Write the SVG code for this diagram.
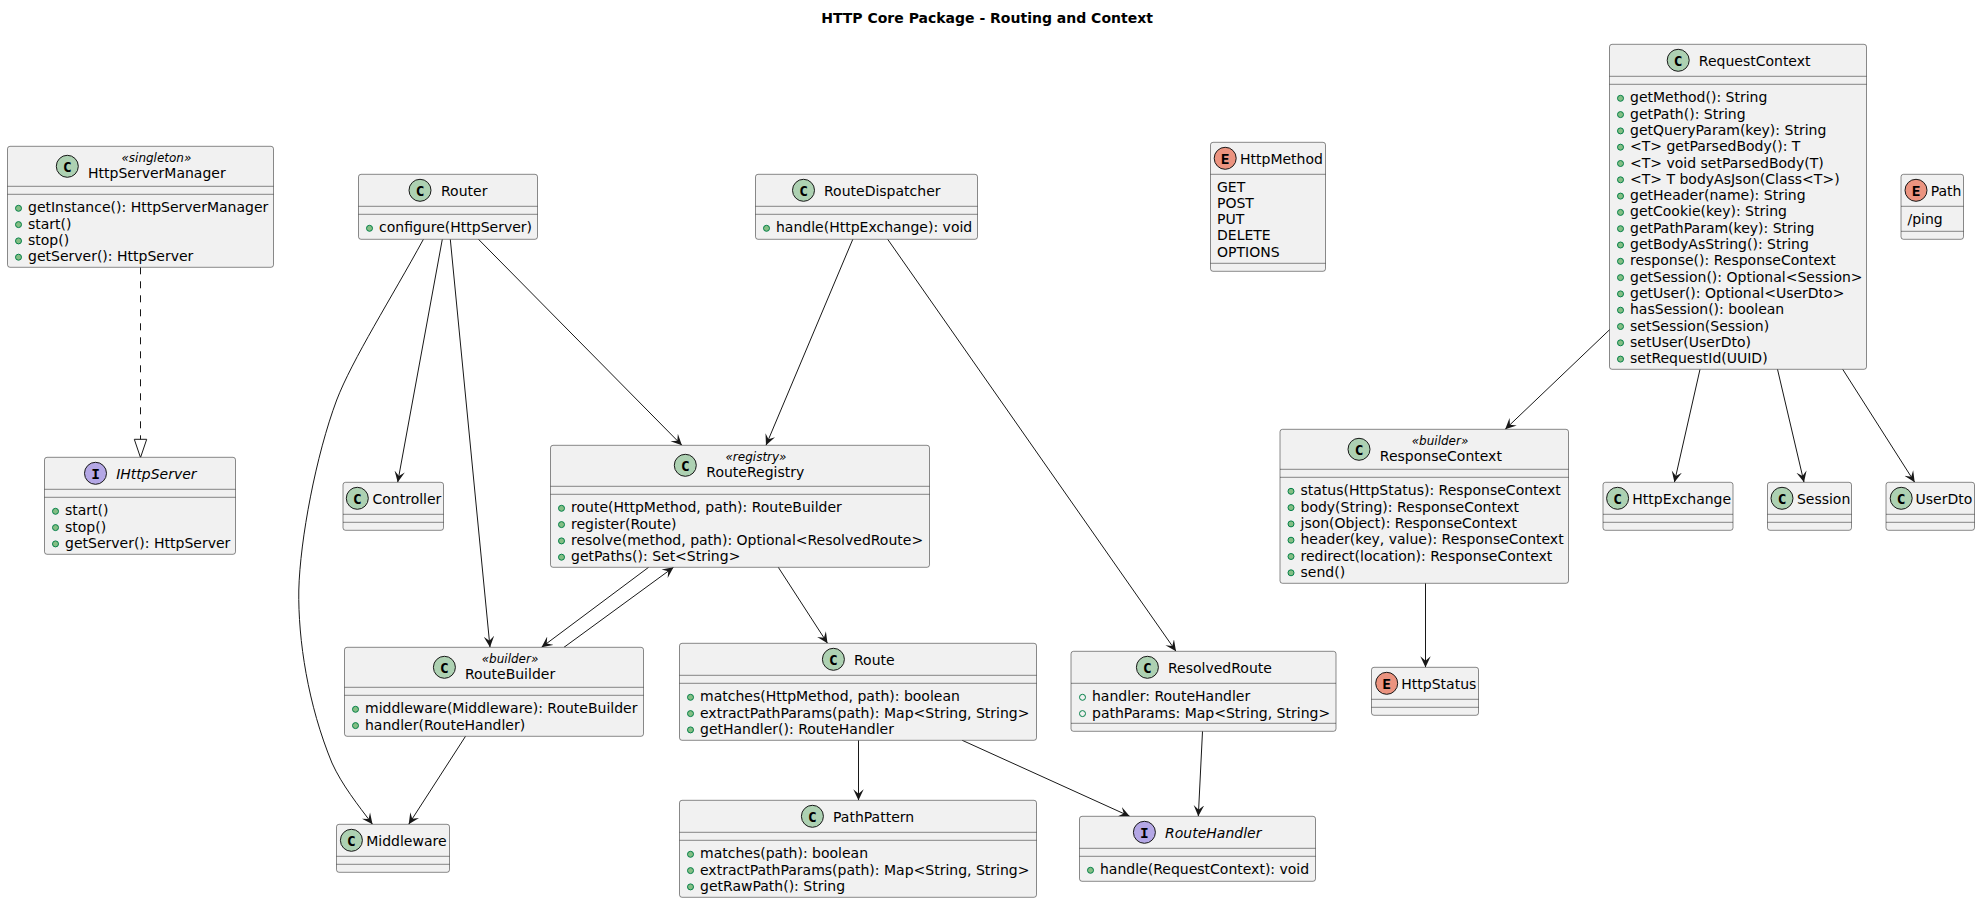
<svg xmlns="http://www.w3.org/2000/svg" width="1986" height="903" viewBox="0 0 1986 903">
<style>
text{font-family:"DejaVu Sans",sans-serif;font-size:14px;fill:#000}
.title{font-weight:bold}
.st{font-size:12px;font-style:italic;text-anchor:middle}
.it{font-style:italic}
.box{fill:#F1F1F1;stroke:#181818;stroke-width:.5}
.d{stroke:#181818;stroke-width:.5}
.c{fill:#ADD1B2;stroke:#181818;stroke-width:1}
.i{fill:#B4A7E5;stroke:#181818;stroke-width:1}
.e{fill:#EB937F;stroke:#181818;stroke-width:1}
.g{font-family:"DejaVu Sans Mono",monospace;font-weight:bold;font-size:14.5px;text-anchor:middle}
.v{fill:#84BE84;stroke:#038048;stroke-width:1}
.f{fill:none;stroke:#038048;stroke-width:1}
.l{fill:none;stroke:#181818;stroke-width:1;marker-end:url(#arrow)}
</style>
<defs>
<marker id="arrow" markerUnits="userSpaceOnUse" viewBox="0 -5.5 11 11" markerWidth="11" markerHeight="11" refX="11" refY="0" orient="auto"><polygon points="0,-5.2 11,0 0,5.2 4.5,0" fill="#181818"/></marker>
<marker id="hollow" markerUnits="userSpaceOnUse" viewBox="-1 -7.5 21 15" markerWidth="21" markerHeight="15" refX="0" refY="0" orient="auto"><polygon points="0,-6.2 18.3,0 0,6.2" fill="none" stroke="#181818" stroke-width="1"/></marker>
</defs>
<text class="title" x="821.2" y="23">HTTP Core Package - Routing and Context</text>
<g id="connectors">
<path fill="none" stroke="#181818" stroke-width="1" stroke-dasharray="7,7" marker-end="url(#hollow)" d="M140.5,267.3 L140.5,439.3"/>
<path class="l" d="M442.3,239.3 L397.7,482.3"/>
<path class="l" d="M450.3,239.3 L490,647.3"/>
<path class="l" d="M423.4,239.3 C392,297 352,360 336.7,400 C316,455 300,540 298.8,590 C298,640 308,705 332,763 C342,785 358,805 372.5,824.3"/>
<path class="l" d="M478.5,239.3 L681.9,445.3"/>
<path class="l" d="M852.8,239.3 L766,445.3"/>
<path class="l" d="M887.7,239.3 L1176,651.3"/>
<path class="l" d="M648.6,567.3 L541.5,647.3"/>
<path class="l" d="M564,647.3 L673.5,567.3"/>
<path class="l" d="M778.3,567.3 L827.5,643.3"/>
<path class="l" d="M465.5,736.3 L408.7,824.3"/>
<path class="l" d="M858.5,740.3 L858.5,800.3"/>
<path class="l" d="M962.2,740.3 L1129.7,816.3"/>
<path class="l" d="M1202.5,731.3 L1198.3,816.3"/>
<path class="l" d="M1610,329.3 L1505.2,429.3"/>
<path class="l" d="M1700,369.3 L1674.4,482.3"/>
<path class="l" d="M1777.5,369.3 L1804,482.3"/>
<path class="l" d="M1842.7,369.3 L1914.7,482.3"/>
<path class="l" d="M1425.5,583.3 L1425.5,667.3"/>
</g>
<g id="HttpServerManager">
<rect class="box" x="7.5" y="146.3" width="266" height="121" rx="2.5"/>
<line class="d" x1="7.5" y1="186.3" x2="273.5" y2="186.3"/><line class="d" x1="7.5" y1="194.3" x2="273.5" y2="194.3"/>
<circle class="c" cx="67.3" cy="166.3" r="11"/><text class="g" x="67.3" y="172">C</text>
<text class="st" x="156.4" y="161.8">«singleton»</text>
<text x="88" y="178.3">HttpServerManager</text>
<circle class="v" cx="18.5" cy="208.3" r="3"/><text x="28" y="212.3">getInstance(): HttpServerManager</text>
<circle class="v" cx="18.5" cy="224.6" r="3"/><text x="28" y="228.6">start()</text>
<circle class="v" cx="18.5" cy="240.9" r="3"/><text x="28" y="244.9">stop()</text>
<circle class="v" cx="18.5" cy="257.2" r="3"/><text x="28" y="261.2">getServer(): HttpServer</text>
</g>
<g id="IHttpServer">
<rect class="box" x="44.5" y="457.3" width="191" height="97" rx="2.5"/>
<line class="d" x1="44.5" y1="489.3" x2="235.5" y2="489.3"/><line class="d" x1="44.5" y1="497.3" x2="235.5" y2="497.3"/>
<circle class="i" cx="95.5" cy="473.3" r="11"/><text class="g" x="95.5" y="479">I</text>
<text class="it" x="116.2" y="479">IHttpServer</text>
<circle class="v" cx="55.5" cy="511.3" r="3"/><text x="65" y="515.3">start()</text>
<circle class="v" cx="55.5" cy="527.6" r="3"/><text x="65" y="531.6">stop()</text>
<circle class="v" cx="55.5" cy="543.9" r="3"/><text x="65" y="547.9">getServer(): HttpServer</text>
</g>
<g id="Router">
<rect class="box" x="358.5" y="174.3" width="179" height="65" rx="2.5"/>
<line class="d" x1="358.5" y1="206.3" x2="537.5" y2="206.3"/><line class="d" x1="358.5" y1="214.3" x2="537.5" y2="214.3"/>
<circle class="c" cx="420" cy="190.3" r="11"/><text class="g" x="420" y="196">C</text>
<text x="441" y="196">Router</text>
<circle class="v" cx="369.5" cy="228.3" r="3"/><text x="379" y="232.3">configure(HttpServer)</text>
</g>
<g id="Controller">
<rect class="box" x="343" y="482.3" width="100.5" height="48" rx="2.5"/>
<line class="d" x1="343" y1="514.3" x2="443.5" y2="514.3"/><line class="d" x1="343" y1="522.3" x2="443.5" y2="522.3"/>
<circle class="c" cx="357.3" cy="498.3" r="11"/><text class="g" x="357.3" y="504">C</text>
<text x="372.5" y="504">Controller</text>
</g>
<g id="RouteRegistry">
<rect class="box" x="550.5" y="445.3" width="379" height="122" rx="2.5"/>
<line class="d" x1="550.5" y1="486.3" x2="929.5" y2="486.3"/><line class="d" x1="550.5" y1="494.3" x2="929.5" y2="494.3"/>
<circle class="c" cx="685.3" cy="465.3" r="11"/><text class="g" x="685.3" y="471">C</text>
<text class="st" x="756" y="461">«registry»</text>
<text x="706.3" y="477.3">RouteRegistry</text>
<circle class="v" cx="561.5" cy="508.3" r="3"/><text x="571" y="512.3">route(HttpMethod, path): RouteBuilder</text>
<circle class="v" cx="561.5" cy="524.6" r="3"/><text x="571" y="528.6">register(Route)</text>
<circle class="v" cx="561.5" cy="540.9" r="3"/><text x="571" y="544.9">resolve(method, path): Optional&lt;ResolvedRoute&gt;</text>
<circle class="v" cx="561.5" cy="557.2" r="3"/><text x="571" y="561.2">getPaths(): Set&lt;String&gt;</text>
</g>
<g id="RouteBuilder">
<rect class="box" x="344.5" y="647.3" width="299" height="89" rx="2.5"/>
<line class="d" x1="344.5" y1="687.3" x2="643.5" y2="687.3"/><line class="d" x1="344.5" y1="695.3" x2="643.5" y2="695.3"/>
<circle class="c" cx="444.4" cy="667.3" r="11"/><text class="g" x="444.4" y="673">C</text>
<text class="st" x="510" y="663">«builder»</text>
<text x="465" y="679.3">RouteBuilder</text>
<circle class="v" cx="355.5" cy="709.3" r="3"/><text x="365" y="713.3">middleware(Middleware): RouteBuilder</text>
<circle class="v" cx="355.5" cy="725.6" r="3"/><text x="365" y="729.6">handler(RouteHandler)</text>
</g>
<g id="Middleware">
<rect class="box" x="336.5" y="824.3" width="113" height="48" rx="2.5"/>
<line class="d" x1="336.5" y1="856.3" x2="449.5" y2="856.3"/><line class="d" x1="336.5" y1="864.3" x2="449.5" y2="864.3"/>
<circle class="c" cx="351.4" cy="840.3" r="11"/><text class="g" x="351.4" y="846">C</text>
<text x="366.2" y="846">Middleware</text>
</g>
<g id="RouteDispatcher">
<rect class="box" x="755.5" y="174.3" width="222" height="65" rx="2.5"/>
<line class="d" x1="755.5" y1="206.3" x2="977.5" y2="206.3"/><line class="d" x1="755.5" y1="214.3" x2="977.5" y2="214.3"/>
<circle class="c" cx="803.5" cy="190.3" r="11"/><text class="g" x="803.5" y="196">C</text>
<text x="824" y="196">RouteDispatcher</text>
<circle class="v" cx="766.5" cy="228.3" r="3"/><text x="776" y="232.3">handle(HttpExchange): void</text>
</g>
<g id="HttpMethod">
<rect class="box" x="1210.5" y="142.3" width="115" height="129" rx="2.5"/>
<line class="d" x1="1210.5" y1="174.3" x2="1325.5" y2="174.3"/><line class="d" x1="1210.5" y1="263.3" x2="1325.5" y2="263.3"/>
<circle class="e" cx="1225.2" cy="158.3" r="11"/><text class="g" x="1225.2" y="164">E</text>
<text x="1240" y="164">HttpMethod</text>
<text x="1217" y="191.5">GET</text>
<text x="1217" y="207.8">POST</text>
<text x="1217" y="224.1">PUT</text>
<text x="1217" y="240.4">DELETE</text>
<text x="1217" y="256.7">OPTIONS</text>
</g>
<g id="Route">
<rect class="box" x="679.5" y="643.3" width="357" height="97" rx="2.5"/>
<line class="d" x1="679.5" y1="675.3" x2="1036.5" y2="675.3"/><line class="d" x1="679.5" y1="683.3" x2="1036.5" y2="683.3"/>
<circle class="c" cx="833.4" cy="659.3" r="11"/><text class="g" x="833.4" y="665">C</text>
<text x="854" y="665">Route</text>
<circle class="v" cx="690.5" cy="697.3" r="3"/><text x="700" y="701.3">matches(HttpMethod, path): boolean</text>
<circle class="v" cx="690.5" cy="713.6" r="3"/><text x="700" y="717.6">extractPathParams(path): Map&lt;String, String&gt;</text>
<circle class="v" cx="690.5" cy="729.9" r="3"/><text x="700" y="733.9">getHandler(): RouteHandler</text>
</g>
<g id="PathPattern">
<rect class="box" x="679.5" y="800.3" width="357" height="97" rx="2.5"/>
<line class="d" x1="679.5" y1="832.3" x2="1036.5" y2="832.3"/><line class="d" x1="679.5" y1="840.3" x2="1036.5" y2="840.3"/>
<circle class="c" cx="812.4" cy="816.3" r="11"/><text class="g" x="812.4" y="822">C</text>
<text x="833" y="822">PathPattern</text>
<circle class="v" cx="690.5" cy="854.3" r="3"/><text x="700" y="858.3">matches(path): boolean</text>
<circle class="v" cx="690.5" cy="870.6" r="3"/><text x="700" y="874.6">extractPathParams(path): Map&lt;String, String&gt;</text>
<circle class="v" cx="690.5" cy="886.9" r="3"/><text x="700" y="890.9">getRawPath(): String</text>
</g>
<g id="ResolvedRoute">
<rect class="box" x="1071" y="651.3" width="265" height="80" rx="2.5"/>
<line class="d" x1="1071" y1="683.3" x2="1336" y2="683.3"/><line class="d" x1="1071" y1="723.3" x2="1336" y2="723.3"/>
<circle class="c" cx="1147.4" cy="667.3" r="11"/><text class="g" x="1147.4" y="673">C</text>
<text x="1168" y="673">ResolvedRoute</text>
<circle class="f" cx="1082.5" cy="697.3" r="3"/><text x="1092" y="701.3">handler: RouteHandler</text>
<circle class="f" cx="1082.5" cy="713.6" r="3"/><text x="1092" y="717.6">pathParams: Map&lt;String, String&gt;</text>
</g>
<g id="RouteHandler">
<rect class="box" x="1079.5" y="816.3" width="236" height="65" rx="2.5"/>
<line class="d" x1="1079.5" y1="848.3" x2="1315.5" y2="848.3"/><line class="d" x1="1079.5" y1="856.3" x2="1315.5" y2="856.3"/>
<circle class="i" cx="1144.4" cy="832.3" r="11"/><text class="g" x="1144.4" y="838">I</text>
<text class="it" x="1165" y="838">RouteHandler</text>
<circle class="v" cx="1090.5" cy="870.3" r="3"/><text x="1100" y="874.3">handle(RequestContext): void</text>
</g>
<g id="RequestContext">
<rect class="box" x="1609.5" y="44.3" width="257" height="325" rx="2.5"/>
<line class="d" x1="1609.5" y1="76.3" x2="1866.5" y2="76.3"/><line class="d" x1="1609.5" y1="84.3" x2="1866.5" y2="84.3"/>
<circle class="c" cx="1678.2" cy="60.3" r="11"/><text class="g" x="1678.2" y="66">C</text>
<text x="1698.8" y="66">RequestContext</text>
<circle class="v" cx="1620.5" cy="98.3" r="3"/><text x="1630" y="102.3">getMethod(): String</text>
<circle class="v" cx="1620.5" cy="114.6" r="3"/><text x="1630" y="118.6">getPath(): String</text>
<circle class="v" cx="1620.5" cy="130.9" r="3"/><text x="1630" y="134.9">getQueryParam(key): String</text>
<circle class="v" cx="1620.5" cy="147.2" r="3"/><text x="1630" y="151.2">&lt;T&gt; getParsedBody(): T</text>
<circle class="v" cx="1620.5" cy="163.5" r="3"/><text x="1630" y="167.5">&lt;T&gt; void setParsedBody(T)</text>
<circle class="v" cx="1620.5" cy="179.8" r="3"/><text x="1630" y="183.8">&lt;T&gt; T bodyAsJson(Class&lt;T&gt;)</text>
<circle class="v" cx="1620.5" cy="196.1" r="3"/><text x="1630" y="200.1">getHeader(name): String</text>
<circle class="v" cx="1620.5" cy="212.4" r="3"/><text x="1630" y="216.4">getCookie(key): String</text>
<circle class="v" cx="1620.5" cy="228.7" r="3"/><text x="1630" y="232.7">getPathParam(key): String</text>
<circle class="v" cx="1620.5" cy="245" r="3"/><text x="1630" y="249">getBodyAsString(): String</text>
<circle class="v" cx="1620.5" cy="261.3" r="3"/><text x="1630" y="265.3">response(): ResponseContext</text>
<circle class="v" cx="1620.5" cy="277.6" r="3"/><text x="1630" y="281.6">getSession(): Optional&lt;Session&gt;</text>
<circle class="v" cx="1620.5" cy="293.9" r="3"/><text x="1630" y="297.9">getUser(): Optional&lt;UserDto&gt;</text>
<circle class="v" cx="1620.5" cy="310.2" r="3"/><text x="1630" y="314.2">hasSession(): boolean</text>
<circle class="v" cx="1620.5" cy="326.5" r="3"/><text x="1630" y="330.5">setSession(Session)</text>
<circle class="v" cx="1620.5" cy="342.8" r="3"/><text x="1630" y="346.8">setUser(UserDto)</text>
<circle class="v" cx="1620.5" cy="359.1" r="3"/><text x="1630" y="363.1">setRequestId(UUID)</text>
</g>
<g id="Path">
<rect class="box" x="1901" y="174.3" width="62.5" height="65" rx="2.5"/>
<line class="d" x1="1901" y1="206.3" x2="1963.5" y2="206.3"/><line class="d" x1="1901" y1="231.3" x2="1963.5" y2="231.3"/>
<circle class="e" cx="1916" cy="190.3" r="11"/><text class="g" x="1916" y="196">E</text>
<text x="1930.7" y="196">Path</text>
<text x="1907.5" y="223.5">/ping</text>
</g>
<g id="ResponseContext">
<rect class="box" x="1280" y="429.3" width="288.5" height="154" rx="2.5"/>
<line class="d" x1="1280" y1="469.3" x2="1568.5" y2="469.3"/><line class="d" x1="1280" y1="477.3" x2="1568.5" y2="477.3"/>
<circle class="c" cx="1359" cy="449.3" r="11"/><text class="g" x="1359" y="455">C</text>
<text class="st" x="1440" y="445">«builder»</text>
<text x="1379.8" y="461.3">ResponseContext</text>
<circle class="v" cx="1291" cy="491.3" r="3"/><text x="1300.5" y="495.3">status(HttpStatus): ResponseContext</text>
<circle class="v" cx="1291" cy="507.6" r="3"/><text x="1300.5" y="511.6">body(String): ResponseContext</text>
<circle class="v" cx="1291" cy="523.9" r="3"/><text x="1300.5" y="527.9">json(Object): ResponseContext</text>
<circle class="v" cx="1291" cy="540.2" r="3"/><text x="1300.5" y="544.2">header(key, value): ResponseContext</text>
<circle class="v" cx="1291" cy="556.5" r="3"/><text x="1300.5" y="560.5">redirect(location): ResponseContext</text>
<circle class="v" cx="1291" cy="572.8" r="3"/><text x="1300.5" y="576.8">send()</text>
</g>
<g id="HttpExchange">
<rect class="box" x="1603" y="482.3" width="130" height="48" rx="2.5"/>
<line class="d" x1="1603" y1="514.3" x2="1733" y2="514.3"/><line class="d" x1="1603" y1="522.3" x2="1733" y2="522.3"/>
<circle class="c" cx="1617.6" cy="498.3" r="11"/><text class="g" x="1617.6" y="504">C</text>
<text x="1632.3" y="504">HttpExchange</text>
</g>
<g id="Session">
<rect class="box" x="1767.5" y="482.3" width="84" height="48" rx="2.5"/>
<line class="d" x1="1767.5" y1="514.3" x2="1851.5" y2="514.3"/><line class="d" x1="1767.5" y1="522.3" x2="1851.5" y2="522.3"/>
<circle class="c" cx="1782" cy="498.3" r="11"/><text class="g" x="1782" y="504">C</text>
<text x="1796.9" y="504">Session</text>
</g>
<g id="UserDto">
<rect class="box" x="1886" y="482.3" width="88.5" height="48" rx="2.5"/>
<line class="d" x1="1886" y1="514.3" x2="1974.5" y2="514.3"/><line class="d" x1="1886" y1="522.3" x2="1974.5" y2="522.3"/>
<circle class="c" cx="1901.2" cy="498.3" r="11"/><text class="g" x="1901.2" y="504">C</text>
<text x="1915.5" y="504">UserDto</text>
</g>
<g id="HttpStatus">
<rect class="box" x="1371.5" y="667.3" width="107" height="48" rx="2.5"/>
<line class="d" x1="1371.5" y1="699.3" x2="1478.5" y2="699.3"/><line class="d" x1="1371.5" y1="707.3" x2="1478.5" y2="707.3"/>
<circle class="e" cx="1386.7" cy="683.3" r="11"/><text class="g" x="1386.7" y="689">E</text>
<text x="1401.3" y="689">HttpStatus</text>
</g>
</svg>
